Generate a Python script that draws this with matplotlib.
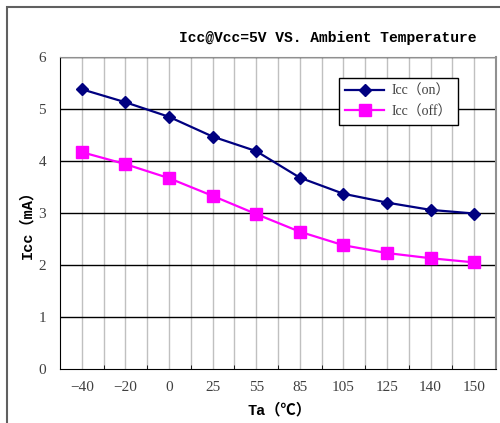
import matplotlib.pyplot as plt
from matplotlib.patches import Rectangle

temps = ["-40", "-20", "0", "25", "55", "85", "105", "125", "140", "150"]
icc_on = [5.38, 5.13, 4.85, 4.47, 4.19, 3.68, 3.37, 3.20, 3.06, 2.99]
icc_off = [4.17, 3.94, 3.67, 3.33, 2.98, 2.64, 2.38, 2.23, 2.13, 2.05]
yticks = [0, 1, 2, 3, 4, 5, 6]

fig = plt.figure(figsize=(5, 4.23), dpi=100)
ax = fig.add_axes([0.12, 0.1277, 0.872, 0.7375])

# outer chart frame
fig.patches.append(Rectangle((7 / 500, -0.1), 1.2, 1 - 7 / 423 + 0.1,
                             transform=fig.transFigure, fill=False,
                             edgecolor="#606060", lw=1.5))

x = list(range(len(temps)))
for xi in x:
    ax.axvline(xi, color="#c0c0c0", lw=1, zorder=0)
    ax.axvline(xi + 0.5, color="#c0c0c0", lw=1, zorder=0)
for yv in yticks[1:]:
    ax.axhline(yv, color="black", lw=1, zorder=1)

ax.plot(x, icc_on, color="#000080", marker="D", ms=6.5, lw=1.6,
        label="Icc（on）", zorder=3)
ax.plot(x, icc_off, color="#ff00ff", marker="s", ms=8, lw=1.6,
        label="Icc（off）", zorder=3)

ax.set_xlim(-0.5, 9.5)
ax.set_ylim(0, 6)
ax.set_xticks(x)
ax.set_xticklabels([t.replace("-", "\u2212") for t in temps])
ax.set_xticks([i + 0.5 for i in range(-1, 10)], minor=True)
ax.tick_params(axis="x", which="major", length=0, pad=9)
ax.tick_params(axis="x", which="minor", direction="in", length=3, color="black")
ax.set_yticks(yticks)
ax.tick_params(axis="y", length=0, pad=10)
for lab in ax.get_xticklabels() + ax.get_yticklabels():
    lab.set_family("Liberation Serif")
    lab.set_fontsize(11)
    lab.set_color("#404040")

ax.spines["left"].set_color("black")
ax.spines["bottom"].set_color("black")
ax.spines["top"].set_color("#909090")
ax.spines["right"].set_color("#909090")
ax.spines["right"].set_linewidth(1.5)

fam = ["Liberation Mono", "Noto Sans CJK SC"]
fig.text(0.656, 1 - 38 / 423, "Icc@Vcc=5V VS. Ambient Temperature",
         family=fam, fontweight="bold", fontsize=10.5, ha="center", va="center")
fig.text(0.56, 1 - 410 / 423, "Ta（℃）", family=fam, fontweight="bold",
         fontsize=11, ha="center", va="center")
fig.text(0.054, 1 - 221 / 423, "Icc（mA）", family=fam, fontweight="bold",
         fontsize=11, ha="center", va="center", rotation=90)

leg = ax.legend(loc="upper left", fancybox=False, framealpha=1,
                edgecolor="black", handlelength=2.8, borderpad=0.45,
                borderaxespad=0, labelspacing=0.55, handletextpad=0.5,
                prop={"family": ["Liberation Serif", "Noto Sans CJK SC"], "size": 10})
leg.get_frame().set_linewidth(1)
for t in leg.get_texts():
    t.set_color("#404040")
leg.set_bbox_to_anchor((339 / 500, 1 - 78 / 423), transform=fig.transFigure)

fig.savefig("out.png", dpi=100)
